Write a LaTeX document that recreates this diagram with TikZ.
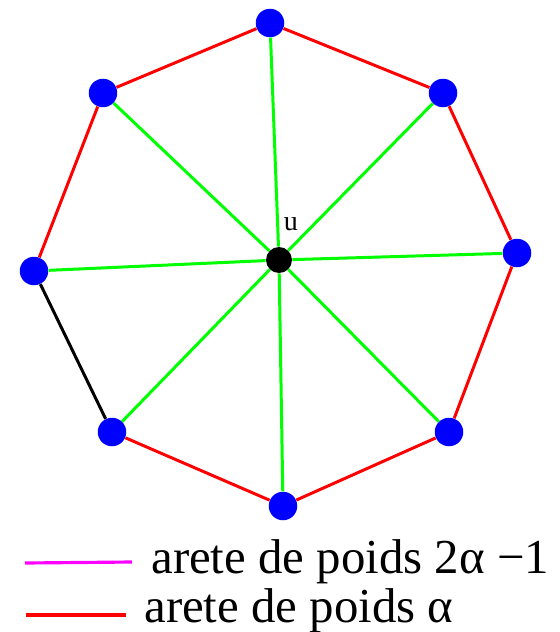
\documentclass[tikz,border=0pt]{standalone}
\usepackage{fontspec}
\setmainfont{Liberation Serif}
\definecolor{rouge}{HTML}{FF0000}
\definecolor{vert}{HTML}{00FF00}
\definecolor{bleu}{HTML}{0000FF}
\definecolor{rose}{HTML}{FF00FF}
\usepackage{tikz}
\usetikzlibrary{positioning}
\tikzset{
  sommet/.style={circle, fill=bleu, inner sep=0pt, minimum size=0.57cm},
  centre/.style={circle, fill=black, inner sep=0pt, minimum size=0.52cm},
  poids/.style={rouge, line width=1.7pt},
  rayon/.style={vert, line width=1.7pt},
  legende/.style={anchor=base west, inner sep=0pt, font=\fontsize{27.8}{32}\selectfont},
}

\begin{document}
\begin{tikzpicture}[x=0.02cm, y=-0.02cm]
  \useasboundingbox (0,0) rectangle (560,632);

  % sommets
  \node[centre] (u) at (279,260) {};
  \node[sommet] (v1) at (270,23) {};
  \node[sommet] (v2) at (443,93) {};
  \node[sommet] (v3) at (517,253) {};
  \node[sommet] (v4) at (449,432) {};
  \node[sommet] (v5) at (283,506) {};
  \node[sommet] (v6) at (112,432) {};
  \node[sommet] (v7) at (34,271) {};
  \node[sommet] (v8) at (103,93) {};
  \node[anchor=base, inner sep=0pt, font=\fontsize{16}{18}\selectfont] (lu) at (291,230) {u};

  % aretes du cycle
  \draw[poids] (v8) -- (v1) -- (v2) -- (v3) -- (v4) -- (v5) -- (v6);
  \draw[poids] (v7) -- (v8);
  \draw[black, line width=1.7pt] (v7) -- (v6);

  % rayons
  \draw[rayon] (u) -- (v1);
  \draw[rayon] (u) -- (v2);
  \draw[rayon] (u) -- (v3);
  \draw[rayon] (u) -- (v4);
  \draw[rayon] (u) -- (v5);
  \draw[rayon] (u) -- (v6);
  \draw[rayon] (u) -- (v7);
  \draw[rayon] (u) -- (v8);

  % legende
  \coordinate (a1) at (25,563);
  \coordinate (b1) at (132,562);
  \draw[rose, line width=1.8pt] (a1) -- (b1);
  \node[legende] (t1) at (151,573) {arete de poids 2α −1};

  \coordinate (a2) at (26,615);
  \coordinate (b2) at (126,615);
  \draw[rouge, line width=1.8pt] (a2) -- (b2);
  \node[legende] (t2) at (144,622) {arete de poids α};
\end{tikzpicture}
\end{document}
